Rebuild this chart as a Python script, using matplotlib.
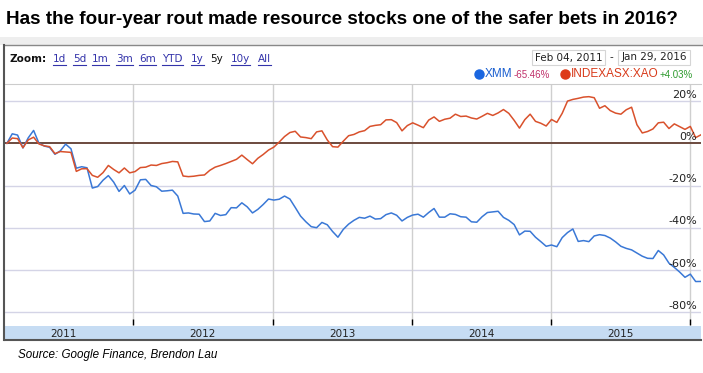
import matplotlib
matplotlib.use("Agg")
import matplotlib.pyplot as plt
from matplotlib.patches import Rectangle
from matplotlib.lines import Line2D
import pandas as pd

W, H = 703, 373

# biweekly closes, % change since Feb 04, 2011
start_date = "2011-02-04"
n_points = 131
xmm = [0.0, 4.5, 3.9, -2.2, 2.6, 6.1, 0.0, -1.3, -1.9, -5.2,
       -3.6, -0.4, -2.6, -11.8, -11.1, -11.6, -21.2, -20.5, -17.5, -15.3,
       -18.4, -22.8, -20.0, -24.0, -22.2, -17.3, -17.1, -20.0, -20.6, -22.7,
       -22.5, -22.2, -25.0, -33.2, -33.0, -33.5, -33.6, -37.1, -36.8, -33.2,
       -34.2, -33.8, -30.5, -30.6, -28.2, -30.1, -33.0, -31.3, -29.0, -26.4,
       -26.9, -26.5, -25.0, -26.4, -30.4, -34.5, -37.2, -39.5, -40.0, -37.5,
       -38.6, -41.8, -44.5, -40.8, -38.3, -36.5, -35.1, -35.5, -34.5, -35.9,
       -35.7, -33.8, -33.0, -34.1, -36.8, -35.1, -34.0, -33.6, -35.0, -32.8,
       -30.9, -35.0, -35.0, -33.4, -33.7, -34.8, -35.0, -37.2, -37.4, -34.8,
       -32.8, -32.5, -32.2, -35.1, -36.5, -38.5, -43.4, -41.6, -41.7, -44.5,
       -46.6, -48.8, -48.2, -49.0, -44.7, -42.3, -40.6, -46.5, -46.1, -46.6,
       -43.9, -43.3, -43.7, -44.9, -46.7, -48.8, -49.8, -50.5, -52.0, -53.5,
       -54.5, -54.6, -50.8, -52.9, -56.8, -58.8, -61.0, -63.5, -62.0, -65.5,
       -65.46]
xao = [0.0, 2.5, 2.2, -2.1, 1.6, 2.9, -0.3, -1.2, -1.6, -4.9,
       -3.9, -4.1, -4.3, -13.3, -12.1, -12.0, -15.2, -16.1, -13.9, -10.5,
       -12.4, -14.0, -11.7, -14.0, -13.4, -11.5, -11.3, -10.3, -10.5, -9.6,
       -9.2, -8.6, -8.8, -15.5, -15.8, -15.6, -15.2, -15.0, -12.8, -11.3,
       -10.5, -9.6, -8.6, -7.6, -5.6, -7.7, -9.7, -7.1, -5.3, -3.2,
       -1.8, 0.6, 3.2, 5.1, 5.7, 3.0, 2.7, 2.2, 5.4, 5.9,
       1.6, -1.6, -1.8, 1.0, 3.6, 4.2, 5.4, 6.0, 8.0, 8.5,
       8.8, 11.1, 11.2, 9.8, 5.9, 8.4, 9.7, 8.6, 7.4, 11.0,
       12.5, 10.4, 11.4, 11.9, 13.8, 12.7, 12.9, 12.0, 11.5, 12.8,
       14.2, 13.2, 14.4, 16.0, 14.2, 10.9, 7.2, 11.2, 13.8, 10.4,
       9.5, 8.2, 11.3, 9.9, 14.2, 20.0, 20.8, 21.3, 21.9, 22.1,
       21.6, 16.6, 17.8, 15.5, 14.3, 13.8, 15.9, 17.1, 8.8, 4.9,
       5.6, 6.8, 9.7, 10.0, 7.0, 9.2, 7.9, 6.6, 8.0, 2.7,
       4.03]

year_labels = ["2011", "2012", "2013", "2014", "2015"]
year_starts = ["2012-01-01", "2013-01-01", "2014-01-01", "2015-01-01", "2016-01-01"]
y_ticks = [20, 0, -20, -40, -60, -80]
zoom_links = ["1d", "5d", "1m", "3m", "6m", "YTD", "1y", "5y", "10y", "All"]
zoom_x = [53, 73, 92, 116, 139, 162, 191, 210, 231, 258]
date_from, date_to = "Feb 04, 2011", "Jan 29, 2016"

dates = pd.date_range(start_date, periods=n_points, freq="14D")
blue = "#3a78d6"
red = "#d9512c"


def fx(x):
    return x / W


def fy(y):
    return 1 - y / H


fig = plt.figure(figsize=(W / 100, H / 100), dpi=100)
fig.patch.set_facecolor("white")

# title + frame
fig.text(fx(6), fy(20), "Has the four-year rout made resource stocks one of the safer bets in 2016?",
         fontsize=13.6, fontweight="bold", family="Liberation Sans",
         va="center", ha="left", color="black")
fig.patches.append(Rectangle((fx(0), fy(45)), 1, (45 - 37) / H, transform=fig.transFigure,
                             facecolor="#eeeeee", edgecolor="none"))
fig.add_artist(Line2D([fx(4), 1], [fy(45), fy(45)], color="#888888", lw=1))
fig.add_artist(Line2D([fx(4), fx(4)], [fy(45), fy(340)], color="#555555", lw=1.5))

# zoom row
fig.text(fx(10), fy(59), "Zoom:", fontsize=7.5, fontweight="bold", va="center", color="#111111")
renderer = fig.canvas.get_renderer()
for lab, x in zip(zoom_links, zoom_x):
    col = "#111111" if lab == "5y" else "#3333aa"
    t = fig.text(fx(x), fy(59), lab, fontsize=7.5, va="center", color=col)
    if lab != "5y":
        bb = t.get_window_extent(renderer)
        x0, x1 = bb.x0 / fig.bbox.width, bb.x1 / fig.bbox.width
        fig.add_artist(Line2D([x0, x1], [fy(65), fy(65)], color=col, lw=0.8))

# date range boxes
for txt, x0, x1 in [(date_from, 532, 605), (date_to, 618, 690)]:
    fig.patches.append(Rectangle((fx(x0), fy(65)), (x1 - x0) / W, 15 / H, transform=fig.transFigure,
                                 facecolor="white", edgecolor="#d5d5d5", lw=0.8))
    fig.text(fx((x0 + x1) / 2), fy(57.5), txt, fontsize=7.5, ha="center", va="center", color="#222222")
fig.text(fx(611), fy(57.5), "-", fontsize=7.5, ha="center", va="center", color="#222222")

# legend
fig.add_artist(Line2D([fx(479)], [fy(74)], marker="o", markersize=6.5, color="#1a66e0", lw=0))
fig.text(fx(485), fy(74), "XMM", fontsize=8.5, color="#1a5fd0", va="center", family="Liberation Sans")
fig.text(fx(514), fy(74.5), f"{xmm[-1]:.2f}%", fontsize=7, color="#c0306a", va="center",
         family="Liberation Sans")
fig.add_artist(Line2D([fx(565)], [fy(74)], marker="o", markersize=6.5, color="#dd3a18", lw=0))
fig.text(fx(571), fy(74), "INDEXASX:XAO", fontsize=8.5, color="#d83a1a", va="center",
         family="Liberation Sans")
fig.text(fx(660), fy(74.5), f"+{xao[-1]:.2f}%", fontsize=7, color="#2e9a2e", va="center",
         family="Liberation Sans")

# main chart
ax = fig.add_axes([fx(5), fy(325), 696 / W, 241 / H])
x_lo, x_hi = pd.Timestamp("2011-01-30"), pd.Timestamp("2016-01-29")
ax.set_xlim(x_lo, x_hi)
ax.set_ylim(-86.1, 28.1)
for v in y_ticks:
    if v == 0:
        ax.axhline(v, color="#6b4a3e", lw=1.4, zorder=3)
    else:
        ax.axhline(v, color="#d4d4e6", lw=1, zorder=1)
    ax.text(0.994, v + 0.6, f"{v}%", transform=ax.get_yaxis_transform(), ha="right", va="bottom",
            fontsize=8, color="#222222", zorder=5)
for d in year_starts:
    ax.axvline(pd.Timestamp(d), color="#cfcfcf", lw=1, zorder=1)
ax.plot(dates, xmm, color=blue, lw=1.1, zorder=4)
ax.plot(dates, xao, color=red, lw=1.1, zorder=4)
ax.set_xticks([pd.Timestamp(d) for d in year_starts])
ax.tick_params(axis="x", direction="in", length=4, width=1, color="black", labelbottom=False)
ax.set_yticks([])
ax.spines["top"].set_color("#cccccc")
ax.spines["left"].set_visible(False)
ax.spines["right"].set_visible(False)
ax.spines["bottom"].set_visible(False)

# timeline band
band = fig.add_axes([fx(5), fy(340), 696 / W, 14 / H])
band.set_facecolor("#c6dcf3")
band.set_xlim(x_lo, x_hi)
band.set_ylim(0, 1)
band.set_xticks([])
band.set_yticks([])
for s in ["top", "left", "right"]:
    band.spines[s].set_visible(False)
band.spines["bottom"].set_color("#555555")
band.spines["bottom"].set_linewidth(1.5)
for lab in year_labels:
    band.text(pd.Timestamp(f"{lab}-07-02"), 0.45, lab, ha="center", va="center", fontsize=7.5,
              color="#222222")

fig.text(fx(18), fy(355), "Source: Google Finance, Brendon Lau", fontsize=8.4, style="italic",
         family="Liberation Sans", va="center", color="black")

fig.savefig("out.png", dpi=100)
